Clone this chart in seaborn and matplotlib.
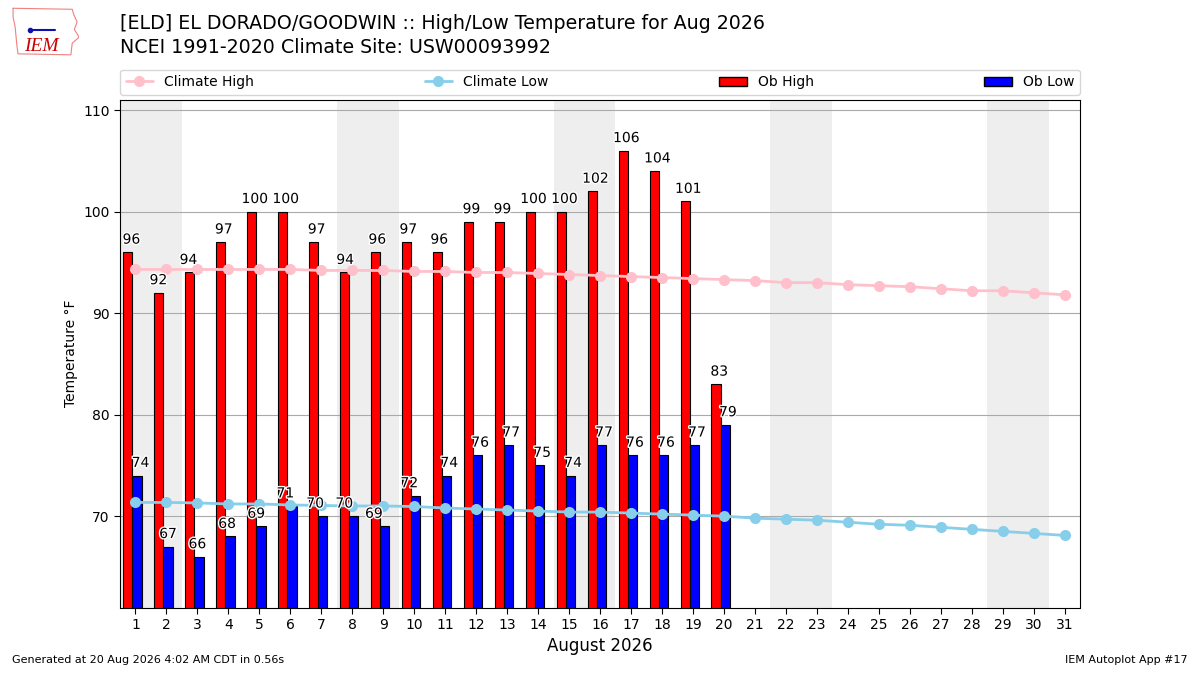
import numpy as np
import pandas as pd
import matplotlib
matplotlib.use('Agg')
import matplotlib.pyplot as plt
import matplotlib.patheffects as PathEffects
from matplotlib.patches import Patch
from matplotlib.lines import Line2D
import seaborn as sns

# Daily observations, Aug 2026 (through the 20th)
ob_days = list(range(1, 21))
ob_high = [96, 92, 94, 97, 100, 100, 97, 94, 96, 97, 96, 99, 99, 100, 100, 102, 106, 104, 101, 83]
ob_low = [74, 67, 66, 68, 69, 71, 70, 70, 69, 72, 74, 76, 77, 75, 74, 77, 76, 76, 77, 79]

# NCEI 1991-2020 daily normals
clim_days = list(range(1, 32))
clim_high = [94.3, 94.3, 94.3, 94.3, 94.3, 94.3, 94.2, 94.2, 94.2, 94.1, 94.1, 94.0, 94.0, 93.9, 93.8, 93.7,
             93.6, 93.5, 93.4, 93.3, 93.2, 93.0, 93.0, 92.8, 92.7, 92.6, 92.4, 92.2, 92.2, 92.0, 91.8]
clim_low = [71.35, 71.35, 71.3, 71.2, 71.2, 71.1, 71.05, 71.0, 71.0, 70.95, 70.8, 70.7, 70.6, 70.5, 70.4, 70.4,
            70.3, 70.2, 70.1, 70.0, 69.8, 69.7, 69.6, 69.4, 69.2, 69.1, 68.9, 68.7, 68.5, 68.3, 68.1]

# weekends in Aug 2026 (Sat/Sun pairs)
weekends = [(1, 2), (8, 9), (15, 16), (22, 23), (29, 30)]

obs = pd.DataFrame({'day': ob_days, 'high': ob_high, 'low': ob_low})
clim = pd.DataFrame({'day': clim_days, 'high': clim_high, 'low': clim_low})

sns.set_style('white')
plt.rcParams['font.family'] = ['DejaVu Sans']
for key in ['text.color', 'axes.labelcolor', 'xtick.color', 'ytick.color']:
    plt.rcParams[key] = 'black'

fig = plt.figure(figsize=(12, 6.75), dpi=100)
ax = fig.add_axes([0.1, 0.1, 0.8, 0.752])

for start, end in weekends:
    ax.axvspan(start - 0.5, end + 0.5, color='#eeeeee', zorder=0, lw=0)

ax.bar(obs['day'] - 0.4, obs['high'], width=0.3, align='edge', color='red', edgecolor='black',
       linewidth=0.8, zorder=2)
ax.bar(obs['day'] - 0.1, obs['low'], width=0.3, align='edge', color='blue', edgecolor='black',
       linewidth=0.8, zorder=2)

sns.lineplot(data=clim, x='day', y='high', ax=ax, color='pink', marker='o', markersize=8,
             markeredgewidth=0, linewidth=2, zorder=3)
sns.lineplot(data=clim, x='day', y='low', ax=ax, color='skyblue', marker='o', markersize=8,
             markeredgewidth=0, linewidth=2, zorder=3)

# labels that were nudged sideways to dodge the climate lines
high_shift = {1: 0.02, 2: -0.11, 3: -0.14, 8: -0.08, 9: -0.04, 10: -0.04, 11: -0.04}
low_shift = {1: 0.03, 2: -0.08, 3: -0.13, 4: -0.17, 5: -0.23, 6: -0.29, 7: -0.33, 8: -0.39, 9: -0.43,
             10: -0.29}
halo = [PathEffects.withStroke(linewidth=2, foreground='white')]
for _, row in obs.iterrows():
    d = int(row['day'])
    ax.annotate(f"{row['high']:.0f}", (d - 0.15 + high_shift.get(d, 0), row['high']), xytext=(0, 4),
                textcoords='offset points', ha='center', va='bottom', fontsize=10, zorder=4,
                path_effects=halo)
    ax.annotate(f"{row['low']:.0f}", (d + 0.13 + low_shift.get(d, 0), row['low']), xytext=(0, 4),
                textcoords='offset points', ha='center', va='bottom', fontsize=10, zorder=4,
                path_effects=halo)

ax.set_xlim(0.5, 31.5)
ax.set_ylim(61, 111)
ax.set_xticks(clim_days)
ax.set_yticks([70, 80, 90, 100, 110])
ax.yaxis.grid(True, color='#aaaaaa', linewidth=0.8, zorder=1)
ax.set_axisbelow(True)
ax.tick_params(axis='both', which='both', length=4, labelsize=10, left=True, bottom=True)
for spine in ax.spines.values():
    spine.set_color('black')
ax.set_xlabel('August 2026', fontsize=12)
ax.set_ylabel('Temperature \u00b0F', fontsize=10)

handles = [
    Line2D([], [], color='pink', marker='o', markersize=8, markeredgewidth=0, linewidth=2),
    Line2D([], [], color='skyblue', marker='o', markersize=8, markeredgewidth=0, linewidth=2),
    Patch(facecolor='red', edgecolor='black'),
    Patch(facecolor='blue', edgecolor='black'),
]
ax.legend(handles, ['Climate High', 'Climate Low', 'Ob High', 'Ob Low'], loc='lower left',
          bbox_to_anchor=(0, 1.01, 1, 0.05), mode='expand', ncol=4, borderaxespad=0, fontsize=10)

fig.text(0.1, 0.965, '[ELD] EL DORADO/GOODWIN :: High/Low Temperature for Aug 2026', fontsize=13.7,
         va='center', ha='left')
fig.text(0.1, 0.93, 'NCEI 1991-2020 Climate Site: USW00093992', fontsize=13.7, va='center', ha='left')

# rough IEM logo: state outline plus lettering
logo = fig.add_axes([0.008, 0.915, 0.058, 0.075])
logo.plot([0.05, 0.9, 0.92, 0.97, 0.93, 1.0, 0.9, 0.88, 0.12, 0.1, 0.08, 0.05, 0.05],
          [0.97, 0.95, 0.85, 0.7, 0.55, 0.4, 0.28, 0.05, 0.07, 0.3, 0.6, 0.8, 0.97],
          color='#f08080', lw=0.8)
logo.plot([0.3, 0.65], [0.55, 0.55], color='#1010b0', lw=1.5)
logo.plot([0.3], [0.55], 'o', color='#1010b0', ms=3)
logo.text(0.45, 0.22, 'IEM', fontsize=14, color='#cc0000', style='italic', family='Liberation Serif',
          ha='center', va='center')
logo.set_xlim(0, 1)
logo.set_ylim(0, 1)
logo.axis('off')

fig.text(0.01, 0.015, 'Generated at 20 Aug 2026 4:02 AM CDT in 0.56s', fontsize=8, ha='left', va='bottom')
fig.text(0.99, 0.015, 'IEM Autoplot App #17', fontsize=8, ha='right', va='bottom')

fig.savefig('out.png', dpi=100)
